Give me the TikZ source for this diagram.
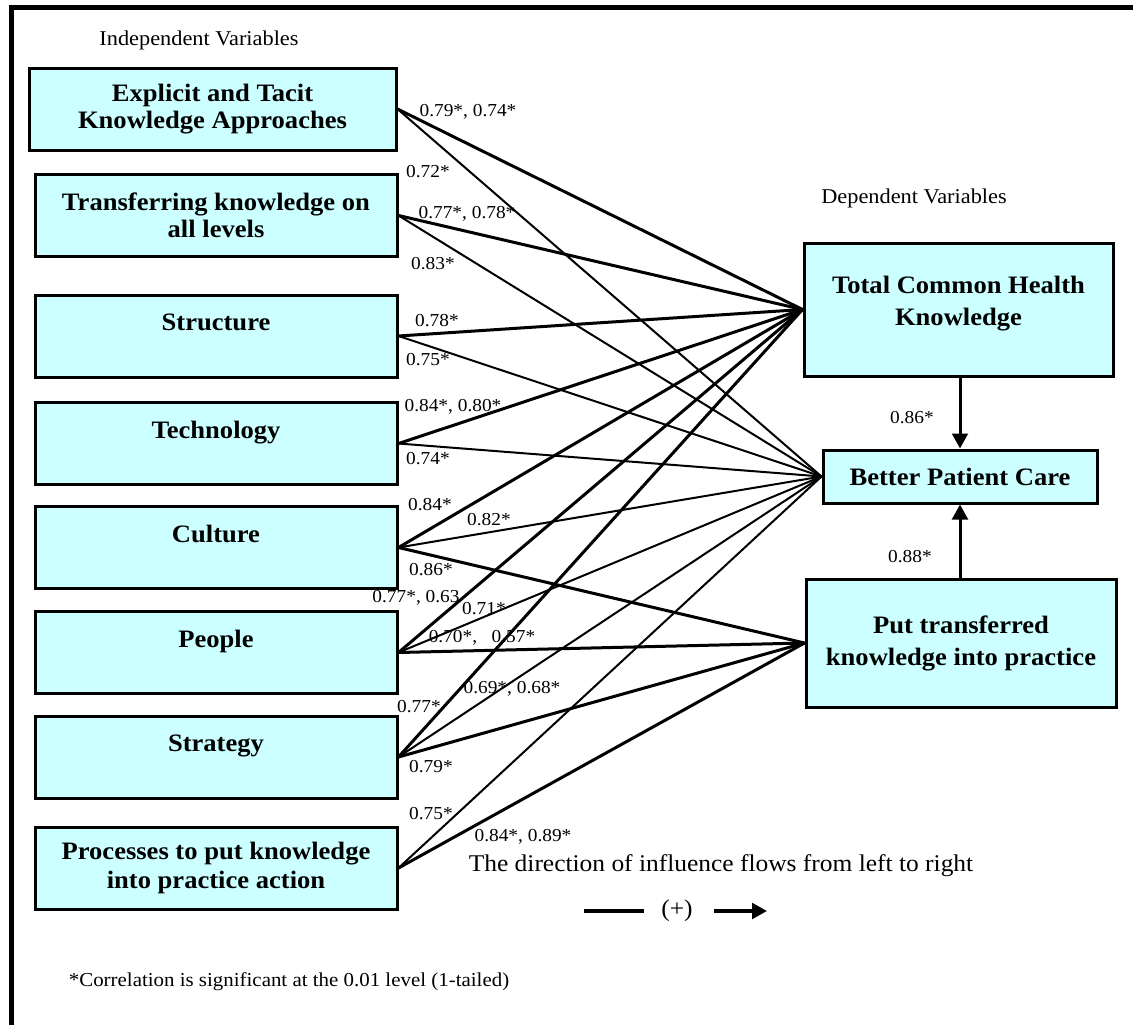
\documentclass[tikz,border=0pt]{standalone}
\usepackage{fontspec}
\setmainfont{Liberation Serif}[FakeStretch=1.06]
\usetikzlibrary{arrows.meta}
\definecolor{boxcyan}{HTML}{CCFFFF}

\begin{document}
\begin{tikzpicture}[x=0.75pt, y=-0.75pt,
  ivbox/.style={rectangle, draw=black, line width=2.25pt, fill=boxcyan,
    minimum width=271.5pt, minimum height=61.5pt, inner sep=2pt, align=center,
    font=\fontsize{18.8}{20}\selectfont\bfseries},
  dvbox/.style={rectangle, draw=black, line width=2.25pt, fill=boxcyan,
    inner sep=2pt, align=center, font=\fontsize{18.8}{24}\selectfont\bfseries},
  corr/.style={inner sep=0pt, font=\fontsize{13.7}{15}\selectfont},
  heading/.style={inner sep=0pt, font=\fontsize{15.8}{18}\selectfont},
  strong/.style={line width=2.25pt},
  weak/.style={line width=1.5pt},
  arrow/.style={-{Triangle[length=11.25pt,width=11.75pt]}, line width=2.25pt},
  frame/.style={line width=3.5pt}]

  \useasboundingbox (0,0) rectangle (1133,1025);
  \draw[frame] (11.5,1025) -- (11.5,7.5) -- (1133,7.5);

  % independent variables
  \node[heading] (indep) at (199,40) {Independent Variables};
  \node[ivbox, minimum width=275.25pt] (explicit) at (212.5,109) {Explicit and Tacit\\Knowledge Approaches};
  \node[ivbox] (transfer) at (216,215.5) {Transferring knowledge on\\all levels};
  \node[ivbox] (structure) at (216,336) {Structure\\\mbox{}};
  \node[ivbox] (technology) at (216,443.5) {Technology\\\mbox{}};
  \node[ivbox] (culture) at (216,547.5) {Culture\\\mbox{}};
  \node[ivbox] (people) at (216,652.5) {People\\\mbox{}};
  \node[ivbox] (strategy) at (216,757) {Strategy\\\mbox{}};
  \node[ivbox, font=\fontsize{18.8}{21.5}\selectfont\bfseries] (processes) at (216,868)
    {Processes to put knowledge\\into practice action};

  % dependent variables
  \node[heading] (dep) at (914,198) {Dependent Variables};
  \node[dvbox, minimum width=231.75pt, minimum height=99.75pt, text depth=13.7pt]
    (health) at (958.5,309.5) {Total Common Health\\Knowledge};
  \node[dvbox, minimum width=205.5pt, minimum height=39.75pt] (care) at (960,476.5) {Better Patient Care};
  \node[dvbox, minimum width=232.5pt, minimum height=96pt] (practice) at (961,643)
    {Put transferred\\knowledge into practice};

  % correlations
  \node[corr] (rExplicit) at (468,112) {0.79*, 0.74*};
  \node[corr] (rExplicitB) at (428,172) {0.72*};
  \node[corr] (rTransfer) at (467,214) {0.77*, 0.78*};
  \node[corr] (rTransferB) at (433,264) {0.83*};
  \node[corr] (rStructure) at (437,321) {0.78*};
  \node[corr] (rStructureB) at (428,360) {0.75*};
  \node[corr] (rTechnology) at (453,407) {0.84*, 0.80*};
  \node[corr] (rTechnologyB) at (428,459) {0.74*};
  \node[corr] (rCulture) at (430,505) {0.84*};
  \node[corr] (rCultureB) at (489,520) {0.82*};
  \node[corr] (rCultureC) at (431,570) {0.86*};
  \node[corr] (rPeople) at (416,598) {0.77*, 0.63};
  \node[corr] (rPeopleB) at (484,609) {0.71*};
  \node[corr] (rPeopleC) at (482,638) {0.70*,\ \ \ 0.57*};
  \node[corr] (rStrategy) at (419,707) {0.77*};
  \node[corr] (rStrategyB) at (512,689) {0.69*, 0.68*};
  \node[corr] (rStrategyC) at (431,767) {0.79*};
  \node[corr] (rProcesses) at (431,814) {0.75*};
  \node[corr] (rProcessesB) at (523,837) {0.84*, 0.89*};
  \node[corr] (rHealth) at (912,418) {0.86*};
  \node[corr] (rPractice) at (910,557) {0.88*};

  % connections
  \draw[strong] (explicit.east) -- (health.west);
  \draw[weak] (explicit.east) -- (care.west);
  \draw[strong] (transfer.east) -- (health.west);
  \draw[weak] (transfer.east) -- (care.west);
  \draw[strong] (structure.east) -- (health.west);
  \draw[weak] (structure.east) -- (care.west);
  \draw[strong] (technology.east) -- (health.west);
  \draw[weak] (technology.east) -- (care.west);
  \draw[strong] (culture.east) -- (health.west);
  \draw[weak] (culture.east) -- (care.west);
  \draw[strong] (culture.east) -- (practice.west);
  \draw[strong] (people.east) -- (health.west);
  \draw[weak] (people.east) -- (care.west);
  \draw[strong] (people.east) -- (practice.west);
  \draw[strong] (strategy.east) -- (health.west);
  \draw[weak] (strategy.east) -- (care.west);
  \draw[strong] (strategy.east) -- (practice.west);
  \draw[weak] (processes.east) -- (care.west);
  \draw[strong] (processes.east) -- (practice.west);
  \draw[arrow] (care.north |- health.south) -- (care.north);
  \draw[arrow] (care.south |- practice.north) -- (care.south);

  % legend
  \node[inner sep=0pt, font=\fontsize{18}{20}\selectfont] (direction) at (721,866)
    {The direction of influence flows from left to right};
  \node[inner sep=0pt, font=\fontsize{18}{20}\selectfont] (plus) at (677,911) {(+)};
  \coordinate (legA) at (584,911);
  \coordinate (legB) at (644,911);
  \coordinate (legC) at (714,911);
  \coordinate (legD) at (767,911);
  \draw[strong, line width=2.5pt] (legA) -- (legB);
  \draw[arrow, line width=2.5pt] (legC) -- (legD);
  \node[inner sep=0pt, font=\fontsize{14.8}{17}\selectfont] (note) at (289,982)
    {*Correlation is significant at the 0.01 level (1-tailed)};
\end{tikzpicture}
\end{document}
